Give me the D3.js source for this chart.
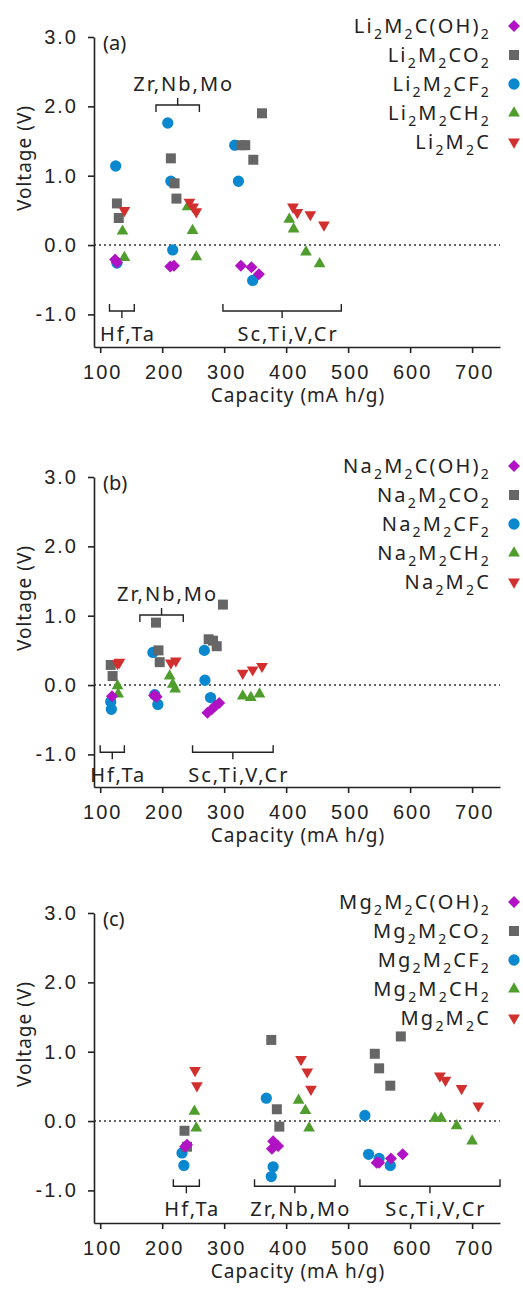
<!DOCTYPE html>
<html>
<head>
<meta charset="utf-8">
<script src="https://cdn.jsdelivr.net/npm/d3@7"></script>
<style>
body { margin: 0; background: #fff; }
svg { font-family: "Noto Sans", sans-serif; }
.axis path, .axis line { stroke: #222; stroke-width: 1.6; }
.axis text { font-size: 20px; fill: #222; letter-spacing: 2px; }
</style>
</head>
<body>
<svg width="523" height="1289"></svg>
<script>
// capacity (mAh/g), voltage (V)
var capTicks = [100, 200, 300, 400, 500, 600, 700];
var voltTicks = [-1, 0, 1, 2, 3];

var seriesSuffix = [["C(OH)", "2"], ["CO", "2"], ["CF", "2"], ["CH", "2"], ["C"]];

// (a) Li
var liOH = [[124,-0.21],[127,-0.25],[213,-0.31],[219,-0.30],[327,-0.30],[344,-0.32],[356,-0.42]];
var liO2 = [[127,0.60],[130,0.39],[214,1.25],[220,0.89],[223,0.67],[328,1.44],[334,1.44],[347,1.23],[361,1.90]];
var liF2 = [[125,1.14],[127,-0.26],[209,1.76],[214,0.92],[217,-0.07],[317,1.44],[323,0.92],[346,-0.51]];
var liH2 = [[136,0.20],[139,-0.18],[241,0.55],[249,0.21],[255,-0.17],[405,0.37],[412,0.23],[432,-0.10],[454,-0.27]];
var liC  = [[139,0.50],[244,0.62],[250,0.55],[255,0.48],[411,0.55],[418,0.47],[439,0.44],[461,0.29]];

// (b) Na
var naOH = [[119,-0.16],[187,-0.15],[191,-0.17],[273,-0.40],[280,-0.35],[286,-0.30],[292,-0.26]];
var naO2 = [[117,0.29],[120,0.13],[190,0.90],[194,0.50],[196,0.33],[275,0.66],[282,0.64],[288,0.56],[298,1.16]];
var naF2 = [[117,-0.24],[118,-0.35],[185,0.47],[188,-0.14],[193,-0.28],[268,0.50],[269,0.07],[278,-0.18]];
var naH2 = [[128,-0.01],[129,-0.13],[212,0.13],[217,0.01],[221,-0.06],[330,-0.16],[343,-0.18],[357,-0.13]];
var naC  = [[128,0.31],[131,0.33],[214,0.32],[222,0.35],[330,0.17],[346,0.22],[361,0.27]];

// (c) Mg
var mgOH = [[237,-0.37],[240,-0.34],[377,-0.40],[379,-0.29],[387,-0.36],[546,-0.60],[550,-0.60],[569,-0.54],[588,-0.48]];
var mgO2 = [[236,-0.14],[240,-0.37],[376,1.17],[385,0.17],[389,-0.08],[543,0.97],[550,0.76],[568,0.51],[585,1.22]];
var mgF2 = [[232,-0.46],[235,-0.64],[368,0.33],[376,-0.80],[379,-0.66],[527,0.08],[533,-0.48],[550,-0.54],[568,-0.64]];
var mgH2 = [[252,0.14],[255,-0.10],[420,0.30],[431,0.15],[437,-0.10],[640,0.04],[650,0.04],[675,-0.07],[700,-0.29]];
var mgC  = [[253,0.73],[256,0.51],[424,0.89],[434,0.71],[440,0.46],[648,0.65],[657,0.59],[683,0.47],[710,0.22]];

// metal groups: [label, capacity from, capacity to, voltage level, above?]
var liGroups = [["Hf,Ta",115,155,-0.95,false],["Zr,Nb,Mo",190,260,2.02,true],["Sc,Ti,V,Cr",298,489,-0.95,false]];
var naGroups = [["Hf,Ta",100,139,-0.97,false],["Zr,Nb,Mo",164,234,1.01,true],["Sc,Ti,V,Cr",249,379,-0.97,false]];
var mgGroups = [["Hf,Ta",218,260,-0.94,false],["Zr,Nb,Mo",349,479,-0.94,false],["Sc,Ti,V,Cr",519,745,-0.94,false]];

var colors = ["#b012c4", "#666666", "#0a88cf", "#4f9e2d", "#d22f2f"];

var svg = d3.select("svg");

var x = d3.scaleLinear().domain([90, 745]).range([94, 500]);

var sym = [
    d3.symbol().type(d3.symbolSquare).size(72),
    d3.symbol().type(d3.symbolSquare).size(100),
    d3.symbol().type(d3.symbolCircle).size(100),
    d3.symbol().type(d3.symbolTriangle).size(60),
    d3.symbol().type(d3.symbolTriangle).size(60)
];
var rot = [45, 0, 0, 0, 180];

var drawOrder = [2, 1, 3, 4, 0];

function drawPanel(tag, ion, top, series, groups) {
    var y = d3.scaleLinear().domain([-1.47, 3]).range([top + 310, top]);
    var g = svg.append("g");

    // zero line
    g.append("line")
        .attr("x1", x(90)).attr("x2", x(745))
        .attr("y1", y(0)).attr("y2", y(0))
        .attr("stroke", "#333")
        .attr("stroke-width", 1.4)
        .attr("stroke-dasharray", "2,3");

    g.append("g")
        .attr("class", "axis")
        .attr("transform", "translate(0," + y(-1.47) + ")")
        .call(d3.axisBottom(x).tickValues(capTicks).tickSize(6).tickSizeOuter(0).tickPadding(12))
        .selectAll("text").attr("dx", 2);

    g.append("g")
        .attr("class", "axis")
        .attr("transform", "translate(" + x(90) + ",0)")
        .call(d3.axisLeft(y).tickValues(voltTicks)
            .tickFormat(function(d) { return d.toFixed(1); })
            .tickSize(6).tickSizeOuter(0).tickPadding(10));

    g.append("text")
        .attr("transform", "translate(31," + (y(0) - 87) + ") rotate(-90)")
        .attr("text-anchor", "middle")
        .attr("font-size", 19)
        .attr("letter-spacing", 1)
        .attr("fill", "#222")
        .text("Voltage (V)");

    g.append("text")
        .attr("x", 298)
        .attr("y", y(-1.47) + 55)
        .attr("text-anchor", "middle")
        .attr("font-size", 19)
        .attr("letter-spacing", 1)
        .attr("fill", "#222")
        .text("Capacity (mA h/g)");

    g.append("text")
        .attr("x", 103)
        .attr("y", top + 13)
        .attr("font-size", 20)
        .attr("fill", "#222")
        .text(tag);

    // group brackets
    groups.forEach(function(b) {
        var x0 = x(b[1]), x1 = x(b[2]), yy = y(b[3]);
        var hook = b[4] ? 7 : -7;
        var xm = (x0 + x1) / 2;
        g.append("path")
            .attr("d", "M" + x0 + "," + (yy + hook) + "V" + yy + "H" + x1 + "V" + (yy + hook) +
                       "M" + xm + "," + yy + "V" + (yy - hook))
            .attr("fill", "none")
            .attr("stroke", "#222")
            .attr("stroke-width", 1.4);
        g.append("text")
            .attr("x", xm + 6)
            .attr("y", b[4] ? yy - 14 : yy + 30)
            .attr("text-anchor", "middle")
            .attr("font-size", 20)
            .attr("letter-spacing", 2)
            .attr("fill", "#222")
            .text(b[0]);
    });

    // points
    drawOrder.forEach(function(k) {
        g.append("g").selectAll("path")
            .data(series[k])
            .enter().append("path")
            .attr("d", sym[k])
            .attr("fill", colors[k])
            .attr("transform", function(d) {
                return "translate(" + x(d[0]) + "," + y(d[1]) + ") rotate(" + rot[k] + ")";
            });
    });

    // legend
    seriesSuffix.forEach(function(s, i) {
        var cy = top - 11 + 29 * i;
        var t = g.append("text")
            .attr("x", 491)
            .attr("y", cy + 7)
            .attr("text-anchor", "end")
            .attr("font-size", 20)
            .attr("letter-spacing", 2.2)
            .attr("fill", "#222");
        var parts = [ion, "2", "M", "2"].concat(s);
        parts.forEach(function(p, j) {
            var sub = j % 2 === 1;
            t.append("tspan")
                .attr("font-size", sub ? 14 : 20)
                .attr("dy", j === 0 ? 0 : (sub ? 6 : -6))
                .text(p);
        });
        g.append("path")
            .attr("d", sym[i])
            .attr("fill", colors[i])
            .attr("transform", "translate(514," + cy + ") rotate(" + rot[i] + ")");
    });
}

drawPanel("(a)", "Li", 37, [liOH, liO2, liF2, liH2, liC], liGroups);
drawPanel("(b)", "Na", 477, [naOH, naO2, naF2, naH2, naC], naGroups);
drawPanel("(c)", "Mg", 913, [mgOH, mgO2, mgF2, mgH2, mgC], mgGroups);
</script>
</body>
</html>
